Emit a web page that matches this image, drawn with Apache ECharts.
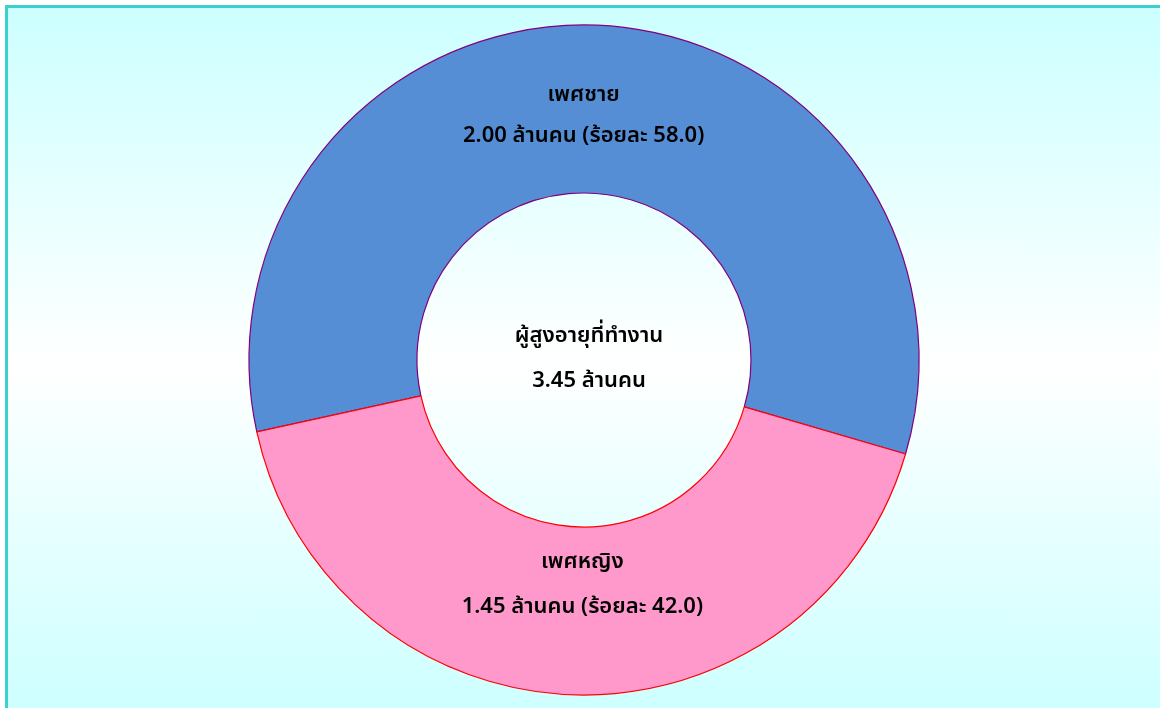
<!DOCTYPE html>
<html>
<head>
<meta charset="utf-8">
<script src="https://cdn.jsdelivr.net/npm/echarts@6/dist/echarts.min.js"></script>
<style>
  html, body { margin: 0; padding: 0; background: #ffffff; }
  #frame {
    position: absolute; left: 5px; top: 5px; width: 1160px; height: 710px;
    border: 3px solid #3ecfcf;
    background: linear-gradient(to bottom, #ccffff 0%, #ffffff 50%, #ccffff 100%);
  }
  #chart { position: absolute; left: 0; top: 0; width: 1160px; height: 708px; }
</style>
</head>
<body>
<div id="frame"></div>
<div id="chart"></div>
<script>
/* global echarts */

const categories = ["เพศชาย", "เพศหญิง"];
const valuesMillion = [2.00, 1.45];
const percentages = ["58.0", "42.0"];
const totalLabel = ["ผู้สูงอายุที่ทำงาน", "3.45 ล้านคน"];

const SLICE_COLORS = ["#558ed5", "#ff99cc"];
const SLICE_BORDERS = ["#800080", "#ff0000"];
const LABEL_OFFSETS = [[-9, 9], [7, -30]];
const LABEL_LINE_HEIGHTS = [41, 45];
const FONT = "'Noto Sans', 'Noto Sans Thai', Tahoma, sans-serif";

const chart = echarts.init(document.getElementById("chart"), null, { renderer: "canvas" });

const data = categories.map((name, i) => ({
  name,
  value: valuesMillion[i],
  itemStyle: { color: SLICE_COLORS[i], borderColor: SLICE_BORDERS[i], borderWidth: 1.2 },
  label: { offset: LABEL_OFFSETS[i], lineHeight: LABEL_LINE_HEIGHTS[i] },
}));

chart.setOption({
  animation: false,
  backgroundColor: "transparent",
  title: {
    text: totalLabel.join("\n"),
    left: 584,
    top: 308,
    textAlign: "center",
    textStyle: {
      fontFamily: FONT,
      fontSize: 22,
      fontWeight: 600,
      color: "#000000",
      lineHeight: 45,
    },
  },
  series: [
    {
      type: "pie",
      center: [584, 360],
      radius: [167, 335],
      startAngle: 192.4,
      clockwise: true,
      avoidLabelOverlap: false,
      data,
      label: {
        show: true,
        position: "inside",
        fontFamily: FONT,
        fontSize: 22,
        fontWeight: 600,
        color: "#000000",
        formatter: (p) =>
          `${p.name}\n${valuesMillion[p.dataIndex].toFixed(2)} ล้านคน (ร้อยละ ${percentages[p.dataIndex]})`,
      },
      labelLine: { show: false },
      emphasis: { disabled: true },
    },
  ],
});
</script>
</body>
</html>
